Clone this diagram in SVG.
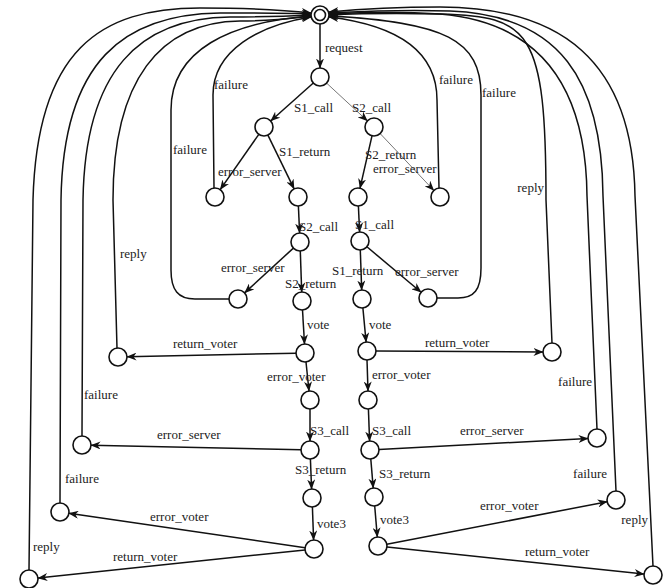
<svg xmlns="http://www.w3.org/2000/svg" width="668" height="588" viewBox="0 0 668 588">
<defs>
<marker id="ah" markerWidth="10" markerHeight="8" refX="9.5" refY="4" orient="auto" markerUnits="userSpaceOnUse">
<path d="M0,0 L10,4 L0,8 L3,4 z" fill="#111"/>
</marker>
<style>
.n{fill:#fff;stroke:#111;stroke-width:1.6}
.e{fill:none;stroke:#111;stroke-width:1.5;marker-end:url(#ah)}
.g{fill:none;stroke:#777;stroke-width:1;marker-end:url(#ah)}
.t{font-family:"Liberation Serif","Times New Roman",serif;font-size:13px;fill:#222}
.r{text-anchor:end}
</style>
</defs>
<rect width="668" height="588" fill="#fff"/>
<g id="connectors">
<path class="e" d="M320,24 L320,68"/>
<path class="e" d="M313.3,83 L270.7,121"/>
<path class="g" d="M326.6,83.1 L367.4,120.9"/>
<path class="e" d="M258.8,134.4 L220.2,189.6"/>
<path class="e" d="M267.9,135.1 L294.1,188.9"/>
<path class="e" d="M372,135.8 L360,188.2"/>
<path class="g" d="M380.2,133.6 L433.8,190.4"/>
<path class="e" d="M298.4,206 L299.6,233"/>
<path class="e" d="M358.4,206 L359.6,232"/>
<path class="e" d="M293.4,248.1 L244.6,292.9"/>
<path class="e" d="M300.3,251 L301.7,292"/>
<path class="e" d="M360.3,250 L361.7,290"/>
<path class="e" d="M366.9,246.8 L421.1,292.2"/>
<path class="e" d="M302.5,310 L304.5,344"/>
<path class="e" d="M362.9,308 L366.1,342"/>
<path class="e" d="M296,353.2 L127,356.8"/>
<path class="e" d="M376,351 L543,352"/>
<path class="e" d="M306,362 L309,391"/>
<path class="e" d="M367,360 L368,391"/>
<path class="e" d="M310,409 L310,441"/>
<path class="e" d="M368.4,409 L369.6,441"/>
<path class="e" d="M301,449.8 L91,445.2"/>
<path class="e" d="M379,449.5 L588,438.5"/>
<path class="e" d="M310.4,459 L311.6,489"/>
<path class="e" d="M370.8,459 L373.2,488"/>
<path class="e" d="M312.4,507 L313.6,540"/>
<path class="e" d="M374.7,506 L377.3,537"/>
<path class="e" d="M305.1,547.7 L68.9,513.3"/>
<path class="e" d="M305,549.9 L38,578.1"/>
<path class="e" d="M386.8,544.3 L607.2,501.7"/>
<path class="e" d="M387,546.9 L644,574.1"/>
<path class="e" d="M29,570 L33,200 C37,50 100,8 200,8 C250,8 285,10 311,13"/>
<path class="e" d="M60,503 L61,200 C63,60 125,14 220,13 C260,13 290,13 311,14"/>
<path class="e" d="M82,436 L83,200 C85,70 140,18 230,17 C265,17 292,16 311,15"/>
<path class="e" d="M117,348 L113,200 C113,80 160,22 240,21 C270,21 293,18 311,16"/>
<path class="e" d="M214,188 L213,95 C213,50 260,25 311,17"/>
<path class="e" d="M229,299 L195,299 C178,299 171,290 171,270 L171,110 C171,50 230,22 311,16"/>
<path class="e" d="M439,188 L437,100 C437,50 395,25 329,17"/>
<path class="e" d="M437,298 L458,298 C474,298 481,290 481,268 L481,95 C481,40 445,22 329,16"/>
<path class="e" d="M552,343 L546,200 C546,30 530,16 440,14 C390,13 350,14 329,15"/>
<path class="e" d="M597,429 L587,196 C586,80 535,22 440,14 C390,11 350,13 329,14"/>
<path class="e" d="M616,491 L603,196 C602,80 560,15 450,11 C395,9 350,12 329,13"/>
<path class="e" d="M653,566 L635,196 C633,60 560,7 440,7 C390,7 350,10 329,12"/>
</g>
<g id="labels">
<text class="t" x="325" y="52">request</text>
<text class="t" x="294" y="112">S1_call</text>
<text class="t" x="352" y="112">S2_call</text>
<text class="t" x="218" y="176">error_server</text>
<text class="t" x="279" y="156">S1_return</text>
<text class="t" x="365" y="159">S2_return</text>
<text class="t" x="373" y="173">error_server</text>
<text class="t" x="299" y="231">S2_call</text>
<text class="t" x="355" y="229">S1_call</text>
<text class="t" x="221" y="272">error_server</text>
<text class="t" x="285" y="288">S2_return</text>
<text class="t" x="332" y="275">S1_return</text>
<text class="t" x="395" y="276">error_server</text>
<text class="t" x="307" y="329">vote</text>
<text class="t" x="369" y="329">vote</text>
<text class="t" x="173" y="348">return_voter</text>
<text class="t" x="425" y="347">return_voter</text>
<text class="t" x="267" y="381">error_voter</text>
<text class="t" x="372" y="379">error_voter</text>
<text class="t" x="310" y="435">S3_call</text>
<text class="t" x="372" y="435">S3_call</text>
<text class="t" x="157" y="439">error_server</text>
<text class="t" x="460" y="435">error_server</text>
<text class="t" x="295" y="474">S3_return</text>
<text class="t" x="379" y="478">S3_return</text>
<text class="t" x="317" y="528">vote3</text>
<text class="t" x="380" y="524">vote3</text>
<text class="t" x="150" y="521">error_voter</text>
<text class="t" x="113" y="561">return_voter</text>
<text class="t" x="480" y="510">error_voter</text>
<text class="t" x="525" y="556">return_voter</text>
<text class="t" x="173" y="154">failure</text>
<text class="t" x="214" y="89">failure</text>
<text class="t" x="120" y="258">reply</text>
<text class="t" x="84" y="399">failure</text>
<text class="t" x="65" y="483">failure</text>
<text class="t" x="33" y="551">reply</text>
<text class="t" x="439" y="84">failure</text>
<text class="t" x="482" y="97">failure</text>
<text class="t r" x="544" y="192">reply</text>
<text class="t r" x="592" y="386">failure</text>
<text class="t r" x="607" y="478">failure</text>
<text class="t r" x="648" y="524">reply</text>
</g>
<g id="root"><circle class="n" cx="320" cy="15" r="9"/><circle class="n" cx="320" cy="15" r="5.5"/></g>
<g id="nA"><circle class="n" cx="320" cy="77" r="9"/></g>
<g id="nB"><circle class="n" cx="264" cy="127" r="9"/></g>
<g id="nC"><circle class="n" cx="374" cy="127" r="9"/></g>
<g id="nD"><circle class="n" cx="215" cy="197" r="9"/></g>
<g id="nE"><circle class="n" cx="298" cy="197" r="9"/></g>
<g id="nF"><circle class="n" cx="358" cy="197" r="9"/></g>
<g id="nG"><circle class="n" cx="440" cy="197" r="9"/></g>
<g id="nH"><circle class="n" cx="300" cy="242" r="9"/></g>
<g id="nI"><circle class="n" cx="360" cy="241" r="9"/></g>
<g id="nJ"><circle class="n" cx="238" cy="299" r="9"/></g>
<g id="nK"><circle class="n" cx="302" cy="301" r="9"/></g>
<g id="nL"><circle class="n" cx="362" cy="299" r="9"/></g>
<g id="nM"><circle class="n" cx="428" cy="298" r="9"/></g>
<g id="nN"><circle class="n" cx="305" cy="353" r="9"/></g>
<g id="nO"><circle class="n" cx="367" cy="351" r="9"/></g>
<g id="nP"><circle class="n" cx="118" cy="357" r="9"/></g>
<g id="nQ"><circle class="n" cx="552" cy="352" r="9"/></g>
<g id="nS"><circle class="n" cx="310" cy="400" r="9"/></g>
<g id="nT"><circle class="n" cx="368" cy="400" r="9"/></g>
<g id="nU"><circle class="n" cx="310" cy="450" r="9"/></g>
<g id="nV"><circle class="n" cx="370" cy="450" r="9"/></g>
<g id="nW"><circle class="n" cx="82" cy="445" r="9"/></g>
<g id="nX"><circle class="n" cx="597" cy="438" r="9"/></g>
<g id="nY"><circle class="n" cx="312" cy="498" r="9"/></g>
<g id="nZ"><circle class="n" cx="374" cy="497" r="9"/></g>
<g id="na"><circle class="n" cx="314" cy="549" r="9"/></g>
<g id="nb"><circle class="n" cx="378" cy="546" r="9"/></g>
<g id="nc"><circle class="n" cx="60" cy="512" r="9"/></g>
<g id="nd"><circle class="n" cx="29" cy="579" r="9"/></g>
<g id="ne"><circle class="n" cx="616" cy="500" r="9"/></g>
<g id="nf"><circle class="n" cx="653" cy="575" r="9"/></g>
</svg>
